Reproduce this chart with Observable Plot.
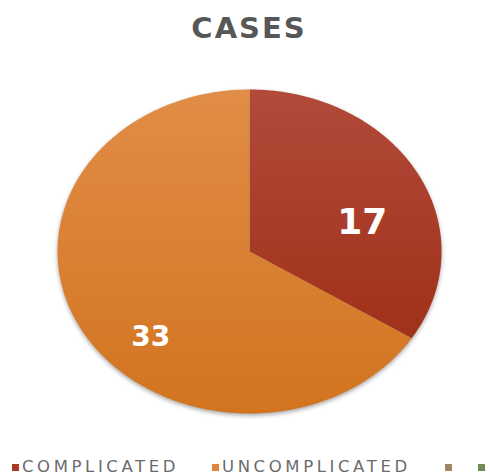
<!DOCTYPE html>
<html>
<head>
<meta charset="utf-8">
<script src="https://cdn.jsdelivr.net/npm/d3@7"></script>
<script src="https://cdn.jsdelivr.net/npm/@observablehq/plot@0.6"></script>
<style>
  html, body { margin: 0; padding: 0; background: #fff; }
  #wrap { position: relative; width: 490px; height: 475px; overflow: hidden; }
  #title { position: absolute; top: 14px; left: 0; width: 498px; text-align: center;
           font-family: "DejaVu Sans", sans-serif; font-weight: bold; font-size: 29px;
           letter-spacing: 2px; color: #575757; line-height: 1; }
  #chart { position: absolute; top: 60px; left: 0; }
  #legend { position: absolute; top: 458px; left: 0; width: 490px; height: 17px;
            font-family: "DejaVu Sans", sans-serif; font-size: 16.5px; color: #6b6b6b;
            letter-spacing: 3.6px; line-height: 17px; white-space: nowrap; }
  .item { position: absolute; top: 0; }
  .sw { display: inline-block; width: 7px; height: 7px; margin-right: 3px; vertical-align: 1px; }
</style>
</head>
<body>
<div id="wrap">
  <div id="title"></div>
  <div id="chart"></div>
  <div id="legend"></div>
</div>
<script>
const title = "CASES";
const categories = ["COMPLICATED", "UNCOMPLICATED"];
const values = [17, 33];
const legendLabels = ["COMPLICATED", "UNCOMPLICATED", "", ""];
const legendColors = ["#a93a26", "#e0843a", "#a3845f", "#6f8c52"];
const sliceTop = ["#b24a3a", "#e18d47"];
const sliceBottom = ["#a0311a", "#d2741f"];

document.getElementById("title").textContent = title;

// pie geometry from data
const pie = d3.pie().sort(null).value(d => d.value).startAngle(0).endAngle(2 * Math.PI);
const data = categories.map((c, i) => ({name: c, value: values[i]}));
const arcs = pie(data);
const pts = [];
for (const a of arcs) {
  pts.push({name: a.data.name, u: 0, v: 0});
  const n = 200;
  for (let k = 0; k <= n; k++) {
    const t = a.startAngle + (a.endAngle - a.startAngle) * k / n;
    pts.push({name: a.data.name, u: Math.sin(t), v: Math.cos(t)});
  }
  pts.push({name: a.data.name, u: 0, v: 0});
}
const labels = arcs.map(a => {
  const m = (a.startAngle + a.endAngle) / 2;
  return {name: a.data.name, value: a.data.value, u: 0.7 * Math.sin(m), v: 0.7 * Math.cos(m)};
});

const W = 490, H = 370;
const plot = Plot.plot({
  width: W, height: H,
  margin: 0,
  x: {domain: [-1.297, 1.255], axis: null},
  y: {domain: [-1.105, 1.179], axis: null},
  color: {domain: categories, range: categories.map((c, i) => `url(#grad${i})`)},
  marks: [
    Plot.line(pts, {x: "u", y: "v", z: "name", fill: "name", stroke: "none", curve: "linear"}),
    Plot.text(labels.filter(d => d.name === categories[0]), {x: "u", y: "v", text: d => String(d.value),
      fill: "white", fontSize: 36, fontWeight: "bold", fontFamily: "DejaVu Sans", dx: -5, dy: 26}),
    Plot.text(labels.filter(d => d.name === categories[1]), {x: "u", y: "v", text: d => String(d.value),
      fill: "white", fontSize: 28, fontWeight: "bold", fontFamily: "DejaVu Sans", dx: 19, dy: 31})
  ]
});

// gradients
const ns = "http://www.w3.org/2000/svg";
const defs = document.createElementNS(ns, "defs");
categories.forEach((c, i) => {
  const g = document.createElementNS(ns, "linearGradient");
  g.setAttribute("id", `grad${i}`);
  g.setAttribute("x1", "0"); g.setAttribute("y1", "0");
  g.setAttribute("x2", "0"); g.setAttribute("y2", "1");
  const s1 = document.createElementNS(ns, "stop");
  s1.setAttribute("offset", "0"); s1.setAttribute("stop-color", sliceTop[i]);
  const s2 = document.createElementNS(ns, "stop");
  s2.setAttribute("offset", "1"); s2.setAttribute("stop-color", sliceBottom[i]);
  g.appendChild(s1); g.appendChild(s2);
  defs.appendChild(g);
});
plot.insertBefore(defs, plot.firstChild);
const lineGroup = plot.querySelector("g[aria-label='line']");
if (lineGroup) lineGroup.setAttribute("style", "filter: drop-shadow(0px 2px 2px rgba(0,0,0,0.35))");
document.getElementById("chart").appendChild(plot);

// legend
const lefts = [12, 212, 445, 478];
const leg = document.getElementById("legend");
legendLabels.forEach((l, i) => {
  const it = document.createElement("span");
  it.className = "item";
  it.style.left = lefts[i] + "px";
  const sw = document.createElement("span");
  sw.className = "sw";
  sw.style.background = legendColors[i];
  it.appendChild(sw);
  it.appendChild(document.createTextNode(l));
  leg.appendChild(it);
});
</script>
</body>
</html>
